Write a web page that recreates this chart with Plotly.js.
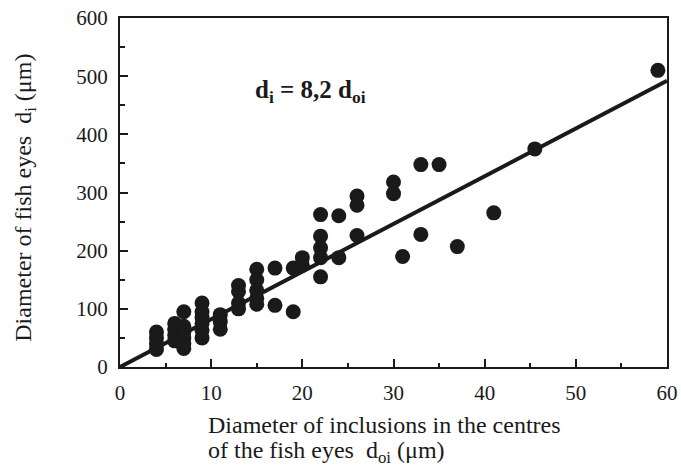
<!DOCTYPE html>
<html>
<head>
<meta charset="utf-8">
<script src="https://cdn.plot.ly/plotly-3.0.1.min.js"></script>
<style>
html,body{margin:0;padding:0;background:#fff;}
#chart{width:681px;height:472px;}
</style>
</head>
<body>
<div id="chart"></div>
<script>
// Inclusion diameter d_oi (µm)
const xVals = [
  4, 4, 4, 4,
  6, 6, 6, 6,
  7, 7, 7, 7, 7, 7,
  9, 9, 9, 9, 9, 9,
  11, 11, 11,
  13, 13, 13, 13,
  15, 15, 15, 15, 15,
  17, 17,
  19, 19,
  20, 20,
  22, 22, 22, 22, 22,
  24, 24,
  26, 26, 26,
  30, 30,
  31,
  33, 33,
  35,
  37,
  41,
  45.5,
  59
];
// Fish-eye diameter d_i (µm)
const yVals = [
  60, 50, 40, 30,
  75, 65, 55, 45,
  95, 70, 60, 50, 40, 32,
  110, 95, 85, 75, 63, 50,
  90, 78, 65,
  140, 130, 110, 100,
  168, 150, 132, 118, 108,
  170, 106,
  170, 95,
  188, 175,
  262, 225, 205, 188, 155,
  260, 188,
  294, 278, 226,
  318, 298,
  190,
  348, 228,
  348,
  207,
  265,
  375,
  510
];
// Fitted line d_i = 8,2 d_oi
const fitX = [0, 60];
const fitY = [0, 492];

const xTickVals = [0, 10, 20, 30, 40, 50, 60];
const yTickVals = [0, 100, 200, 300, 400, 500, 600];

const serif = "Liberation Serif, Times New Roman, serif";
const ink = "#1a1a1a";

const traces = [
  {
    x: fitX, y: fitY, type: "scatter", mode: "lines",
    line: {color: ink, width: 4}, hoverinfo: "skip", showlegend: false
  },
  {
    x: xVals, y: yVals, type: "scatter", mode: "markers",
    marker: {color: ink, size: 15, line: {width: 0}}, showlegend: false
  }
];

const axisCommon = {
  showgrid: false, zeroline: false, showline: true, mirror: true,
  linecolor: ink, linewidth: 2, ticks: "inside", ticklen: 8, tickwidth: 2,
  tickcolor: ink, tickfont: {family: serif, size: 21, color: ink}
};

const layout = {
  width: 681, height: 472,
  margin: {l: 120, r: 14, t: 18, b: 105},
  paper_bgcolor: "#fff", plot_bgcolor: "#fff",
  xaxis: Object.assign({}, axisCommon, {
    range: [0, 60], tickvals: xTickVals, ticktext: xTickVals.map(String),
    ticklabelstandoff: 6,
    minor: {dtick: 5, tick0: 0, ticks: "inside", ticklen: 4, tickwidth: 2, tickcolor: ink}
  }),
  yaxis: Object.assign({}, axisCommon, {
    range: [0, 600], tickvals: yTickVals, ticktext: yTickVals.map(String),
    ticklabelstandoff: 6,
    minor: {dtick: 50, tick0: 0, ticks: "inside", ticklen: 5, tickwidth: 2, tickcolor: ink}
  }),
  annotations: [
    {
      text: "<b>d<sub>i</sub> = 8,2 d<sub>oi</sub></b>",
      xref: "x", yref: "y", x: 20.9, y: 473, showarrow: false,
      font: {family: serif, size: 25, color: ink}
    },
    {
      text: "Diameter of inclusions in the centres",
      xref: "paper", yref: "paper", x: 0.157, y: 0, xanchor: "left", yanchor: "top",
      yshift: -43, align: "left", showarrow: false,
      font: {family: serif, size: 24, color: ink}
    },
    {
      text: "of the fish eyes  d<sub>oi</sub> (μm)",
      xref: "paper", yref: "paper", x: 0.157, y: 0, xanchor: "left", yanchor: "top",
      yshift: -68, align: "left", showarrow: false,
      font: {family: serif, size: 24, color: ink}
    },
    {
      text: "Diameter of fish eyes  d<sub>i</sub> (μm)",
      xref: "paper", yref: "paper", x: 0, y: 0.485, xanchor: "center", yanchor: "middle",
      xshift: -95, textangle: -90, showarrow: false,
      font: {family: serif, size: 24, color: ink}
    }
  ]
};

Plotly.newPlot("chart", traces, layout, {displayModeBar: false, staticPlot: true});
</script>
</body>
</html>
